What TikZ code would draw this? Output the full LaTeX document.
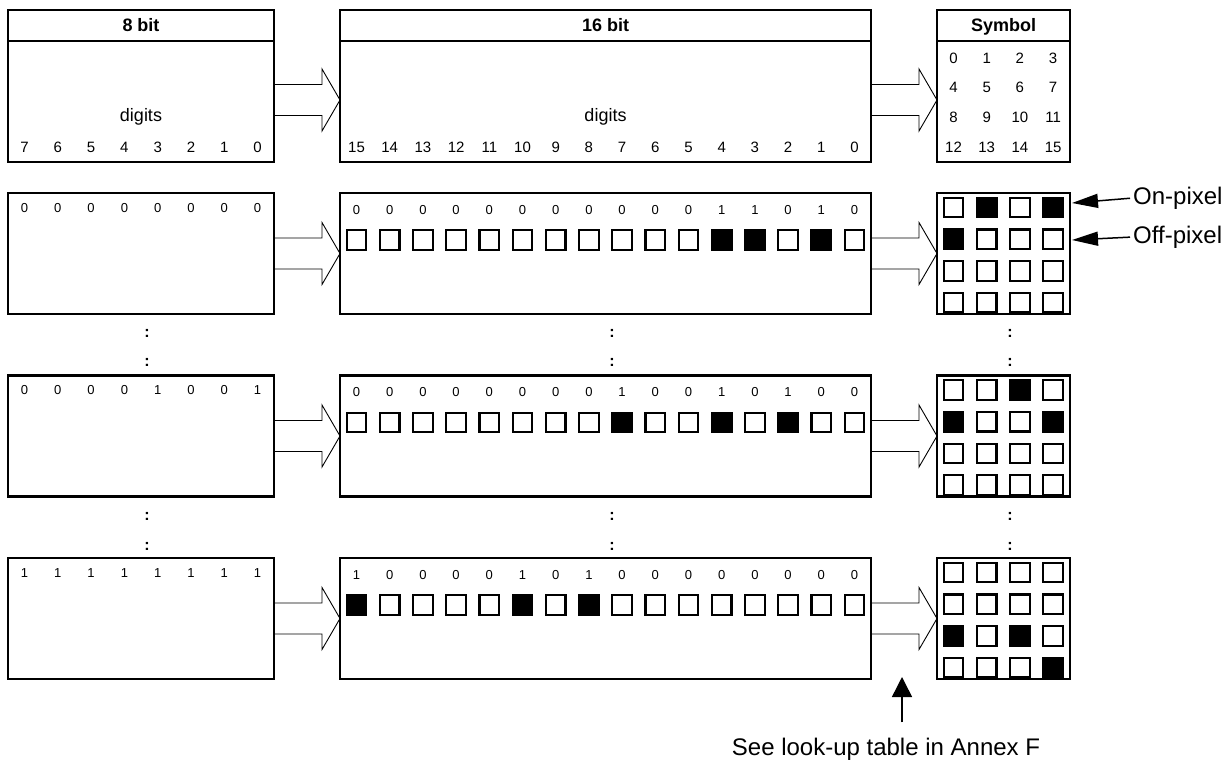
\documentclass[tikz,border=0pt]{standalone}
\usepackage{fontspec}
\setmainfont{Liberation Sans}
\usetikzlibrary{arrows.meta}

\begin{document}
\begin{tikzpicture}[x=1pt, y=-1pt,
  box/.style={draw, line width=2.7pt, inner sep=0pt, outer sep=0pt, anchor=north west},
  pix/.style={draw, line width=2.2pt, minimum size=19.5pt, inner sep=0pt},
  on/.style={pix, fill=black},
  fat/.style={draw, line width=0.9pt},
  ptr/.style={line width=1.5pt, -{Triangle[length=26pt, width=14pt]}},
  head/.style={font=\fontsize{18}{20}\selectfont\bfseries, anchor=base},
  num/.style={font=\fontsize{15}{17}\selectfont, inner sep=0pt},
  bitnum/.style={font=\fontsize{13}{15}\selectfont, inner sep=0pt},
  dots/.style={font=\fontsize{16}{18}\selectfont\bfseries, inner sep=0pt},
  lbl/.style={font=\fontsize{24}{28}\selectfont, inner sep=0pt}]
  \useasboundingbox (0,0) rectangle (1229,760);
  % header boxes
  \node[box, minimum width=266pt, minimum height=152pt] (hb8) at (8,10) {};
  \node[box, minimum width=531pt, minimum height=152pt] (hb16) at (340,10) {};
  \node[box, minimum width=133pt, minimum height=152pt] (hsym) at (937,10) {};
  \foreach \n in {hb8,hb16,hsym}
    \draw[line width=2pt] ([yshift=-31pt]\n.north west) -- ([yshift=-31pt]\n.north east);
  \node[head] (t8) at (141,32) {8 bit};
  \node[head] (t16) at (605.5,32) {16 bit};
  \node[head] (tsym) at (1003.5,32) {Symbol};
  \node[font=\fontsize{18}{20}\selectfont] (dg8) at (141,117) {digits};
  \node[font=\fontsize{18}{20}\selectfont] (dg16) at (605.5,117) {digits};
  \foreach \i in {0,...,7} {
    \pgfmathtruncatemacro\n{7-\i}
    \node[num] (n8-\i) at (24.5+33.3*\i,147) {\n};
  }
  \foreach \i in {0,...,15} {
    \pgfmathtruncatemacro\n{15-\i}
    \node[num] (n16-\i) at (356.5+33.2*\i,147) {\n};
  }
  \foreach \k in {0,...,15} {
    \pgfmathtruncatemacro\row{floor(\k/4)}
    \pgfmathtruncatemacro\col{mod(\k,4)}
    \node[num] (ns-\k) at (953.5+33.2*\col,58+29.7*\row) {\k};
  }
  % data rows
  \foreach \top/\lo/\hi [count=\r] in {
      193/{0,0,0,0,0,0,0,0}/{0,0,0,0,0,0,0,0,0,0,0,1,1,0,1,0},
      375.5/{0,0,0,0,1,0,0,1}/{0,0,0,0,0,0,0,0,1,0,0,1,0,1,0,0},
      558/{1,1,1,1,1,1,1,1}/{1,0,0,0,0,1,0,1,0,0,0,0,0,0,0,0}} {
    \node[box, minimum width=266pt, minimum height=121pt] (lo\r) at (8,\top) {};
    \node[box, minimum width=531pt, minimum height=121pt] (hi\r) at (340,\top) {};
    \node[box, minimum width=133pt, minimum height=121pt] (sym\r) at (937,\top) {};
    \foreach \b [count=\i from 0] in \lo
      \node[bitnum] (d\r-\i) at (24.5+33.3*\i,\top+15) {\b};
    \foreach \b [count=\i from 0] in \hi {
      \pgfmathtruncatemacro\k{15-\i}
      \pgfmathtruncatemacro\row{floor(\k/4)}
      \pgfmathtruncatemacro\col{mod(\k,4)}
      \ifnum\b=1 \def\sty{on}\else\def\sty{pix}\fi
      \node[bitnum] (e\r-\i) at (356.5+33.2*\i,\top+17) {\b};
      \node[\sty] (p\r-\i) at (356.5+33.2*\i,\top+47) {};
      \node[\sty] (s\r-\k) at (953.5+33.2*\col,\top+14.5+31.7*\row) {};
    }
  }
  % block arrows
  \foreach \a/\b/\dy in {hb8/hb16/-14pt, hb16/hsym/-14pt, lo1/hi1/0pt, hi1/sym1/0pt,
      lo2/hi2/0pt, hi2/sym2/0pt, lo3/hi3/0pt, hi3/sym3/0pt}
    \draw[fat] ([yshift=\dy+15.5pt]\a.east) -- ([xshift=-18pt, yshift=\dy+15.5pt]\b.west)
      -- ([xshift=-18pt, yshift=\dy+31pt]\b.west) -- ([yshift=\dy]\b.west)
      -- ([xshift=-18pt, yshift=\dy-31pt]\b.west) -- ([xshift=-18pt, yshift=\dy-15.5pt]\b.west)
      -- ([yshift=\dy-15.5pt]\a.east);
  % dots between rows
  \foreach \y in {333,362,516,546}
    \foreach \x in {147,612,1010}
      \node[dots] (c\x-\y) at (\x,\y) {:};
  % labels
  \node[lbl, anchor=west] (onlbl) at (1133,198) {On-pixel};
  \node[lbl, anchor=west] (offlbl) at (1133,237) {Off-pixel};
  \coordinate (ontip) at (1072,203);
  \coordinate (offtip) at (1072,240);
  \draw[ptr, shorten <=3pt] (onlbl.west) -- (ontip);
  \draw[ptr, shorten <=3pt] (offlbl.west) -- (offtip);
  \node[lbl, anchor=base] (lut) at (886,755) {See look-up table in Annex F};
  \coordinate (luttip) at (902,677);
  \draw[line width=1.5pt, -{Triangle[length=20pt, width=20pt]}, shorten <=15pt]
    (lut.north -| luttip) -- (luttip);
\end{tikzpicture}
\end{document}
